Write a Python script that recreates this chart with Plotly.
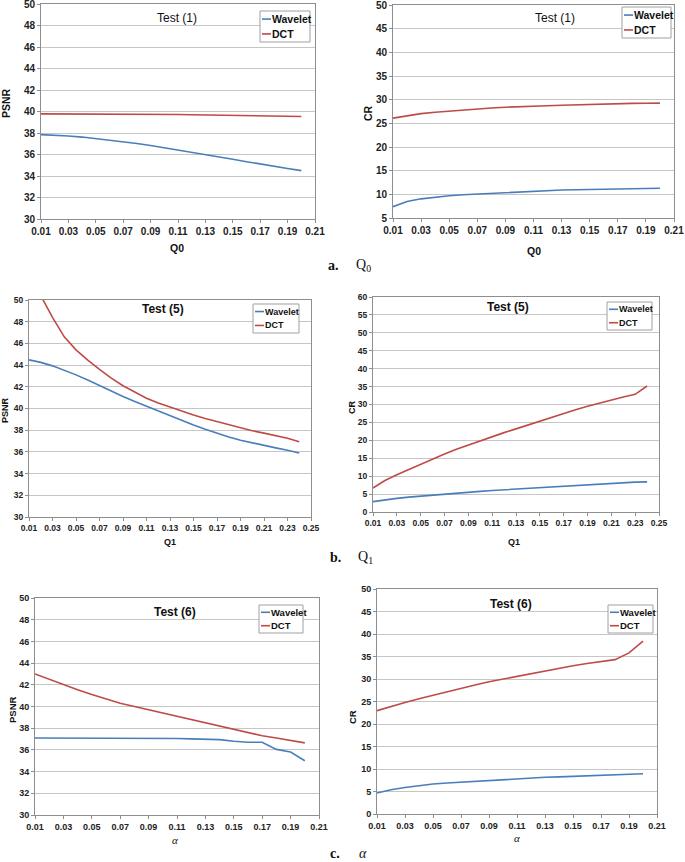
import plotly.graph_objects as go

W, H = 685, 862

# ---------------- data ----------------
q0 = [0.01, 0.02, 0.03, 0.04, 0.05, 0.06, 0.07, 0.08, 0.09, 0.10,
      0.11, 0.12, 0.13, 0.14, 0.15, 0.16, 0.17, 0.18, 0.19, 0.20]
q1 = [0.01, 0.02, 0.03, 0.04, 0.05, 0.06, 0.07, 0.08, 0.09, 0.10, 0.11, 0.12,
      0.13, 0.14, 0.15, 0.16, 0.17, 0.18, 0.19, 0.20, 0.21, 0.22, 0.23, 0.24]
alpha = [0.01, 0.02, 0.03, 0.04, 0.05, 0.06, 0.07, 0.08, 0.09, 0.10,
         0.11, 0.12, 0.13, 0.14, 0.15, 0.16, 0.17, 0.18, 0.19, 0.20]

t1_psnr_wavelet = [37.85, 37.8, 37.72, 37.62, 37.48, 37.35, 37.2, 37.02, 36.83, 36.63,
                   36.43, 36.22, 36.0, 35.78, 35.56, 35.33, 35.1, 34.9, 34.7, 34.5]
t1_psnr_dct = [39.78, 39.78, 39.78, 39.78, 39.78, 39.77, 39.76, 39.75, 39.75, 39.73,
               39.72, 39.7, 39.68, 39.66, 39.64, 39.62, 39.6, 39.57, 39.54, 39.53]
t1_cr_wavelet = [7.4, 8.5, 9.05, 9.4, 9.7, 9.9, 10.06, 10.25, 10.4, 10.55,
                 10.68, 10.8, 10.9, 10.97, 11.03, 11.07, 11.1, 11.2, 11.28, 11.3]
t1_cr_dct = [26.1, 26.6, 27.05, 27.35, 27.6, 27.85, 28.08, 28.25, 28.4, 28.55,
             28.65, 28.73, 28.82, 28.92, 29.02, 29.1, 29.17, 29.22, 29.25, 29.27]

t5_psnr_wavelet = [44.48, 44.25, 43.93, 43.55, 43.1, 42.62, 42.1, 41.6, 41.1, 40.65, 40.2, 39.75,
                   39.3, 38.88, 38.47, 38.08, 37.7, 37.38, 37.08, 36.82, 36.58, 36.37, 36.15, 35.9]
t5_psnr_dct = [53.2, 50.4, 48.4, 46.6, 45.4, 44.45, 43.6, 42.8, 42.1, 41.5, 40.95, 40.5,
               40.12, 39.75, 39.4, 39.08, 38.8, 38.5, 38.2, 37.95, 37.73, 37.5, 37.25, 36.93]
t5_cr_wavelet = [2.9, 3.4, 3.8, 4.15, 4.45, 4.7, 4.9, 5.2, 5.5, 5.75, 6.0, 6.2,
                 6.4, 6.6, 6.8, 6.97, 7.14, 7.37, 7.6, 7.8, 7.98, 8.17, 8.35, 8.4]
t5_cr_dct = [6.7, 8.8, 10.4, 11.9, 13.36, 14.8, 16.2, 17.5, 18.7, 19.9, 21.06, 22.15,
             23.2, 24.3, 25.4, 26.5, 27.55, 28.55, 29.5, 30.4, 31.26, 32.1, 32.84, 35.16]

t6_psnr_wavelet = [37.1, 37.1, 37.1, 37.1, 37.1, 37.08, 37.08, 37.08, 37.08, 37.05,
                   37.05, 37.02, 37.0, 36.95, 36.8, 36.7, 36.7, 36.05, 35.8, 35.0]
t6_psnr_dct = [43.0, 42.5, 42.0, 41.55, 41.1, 40.7, 40.3, 40.0, 39.7, 39.4,
               39.1, 38.8, 38.5, 38.2, 37.9, 37.6, 37.3, 37.1, 36.9, 36.65]
t6_cr_wavelet = [4.67, 5.4, 5.9, 6.3, 6.67, 6.9, 7.1, 7.3, 7.48, 7.67,
                 7.85, 8.0, 8.15, 8.26, 8.37, 8.48, 8.6, 8.67, 8.74, 8.96]
t6_cr_dct = [22.96, 23.9, 24.8, 25.6, 26.4, 27.15, 27.9, 28.65, 29.4, 30.0,
             30.6, 31.2, 31.85, 32.4, 32.96, 33.45, 33.9, 34.3, 35.8, 38.4]

series_names = ["Wavelet", "DCT"]
panel_titles = ["Test (1)", "Test (1)", "Test (5)", "Test (5)", "Test (6)", "Test (6)"]
y_titles = ["PSNR", "CR", "PSNR", "CR", "PSNR", "CR"]
x_titles = ["Q0", "Q0", "Q1", "Q1", "<i>α</i>", "<i>α</i>"]
fig_letters = ["a.", "b.", "c."]
fig_params = ["Q<sub>0</sub>", "Q<sub>1</sub>", "<i>α</i>"]

panels = [
    (q0, t1_psnr_wavelet, t1_psnr_dct, [30, 50], 2, [0.01, 0.21]),
    (q0, t1_cr_wavelet, t1_cr_dct, [5, 50], 5, [0.01, 0.21]),
    (q1, t5_psnr_wavelet, t5_psnr_dct, [30, 50], 2, [0.01, 0.25]),
    (q1, t5_cr_wavelet, t5_cr_dct, [0, 60], 5, [0.01, 0.25]),
    (alpha, t6_psnr_wavelet, t6_psnr_dct, [30, 50], 2, [0.01, 0.21]),
    (alpha, t6_cr_wavelet, t6_cr_dct, [0, 50], 5, [0.01, 0.21]),
]

# ---------------- layout (pixel geometry) ----------------
plot_px = [(41, 4, 315, 219), (393, 5, 674, 218), (29, 300, 311, 517),
           (373, 297, 659, 512), (35, 598, 319, 815), (377, 589, 657, 814)]
tick_sizes = [10, 10, 8.5, 8.5, 9, 9]
title_pos = [(177, 18), (555, 18), (163, 309), (508, 307), (175, 612), (511, 604)]
title_bold = [False, False, True, True, True, True]
ytitle_pos = [(6, 103), (368, 113), (5, 410), (352, 407), (12, 710), (352, 717)]
xtitle_pos = [(177, 248), (534, 251), (170, 542), (514, 542), (175, 840), (517, 838)]
legend_px = [(260, 11, 310, 42), (622, 7, 671, 38), (253, 304, 299, 333),
             (607, 302, 652, 330), (259, 605, 303, 633), (608, 605, 653, 633)]
letter_pos = [((333, 265), (363, 265)), ((335, 557), (366, 557)), ((335, 853), (363, 853))]

BLUE = "#4a7ebb"
RED = "#be4b48"
GRID = "#c6c6c6"
AXIS = "#8e8e8e"
FONT = "Liberation Sans, Arial, sans-serif"
SERIF = "Liberation Serif, Times New Roman, serif"


def fx(x):
    return x / W


def fy(y):
    return 1 - y / H


def note(x, y, text, font, xanchor="center", angle=0):
    return dict(x=fx(x), y=fy(y), xref="paper", yref="paper", text=text,
                showarrow=False, xanchor=xanchor, yanchor="middle",
                textangle=angle, font=font)


fig = go.Figure()
layout = {}
annotations = []
shapes = []

for i, (xs, yw, yd, yr, dt, xr) in enumerate(panels):
    n = i + 1
    sfx = "" if n == 1 else str(n)
    x0, y0, x1, y1 = plot_px[i]
    fig.add_trace(go.Scatter(x=xs, y=yw, mode="lines", name=series_names[0],
                             line=dict(color=BLUE, width=1.6), showlegend=False,
                             xaxis="x" + sfx, yaxis="y" + sfx))
    fig.add_trace(go.Scatter(x=xs, y=yd, mode="lines", name=series_names[1],
                             line=dict(color=RED, width=1.6), showlegend=False,
                             xaxis="x" + sfx, yaxis="y" + sfx))
    tf = dict(family=FONT, size=tick_sizes[i], color="#222", weight="bold")
    layout["xaxis" + sfx] = dict(
        domain=[fx(x0), fx(x1)], anchor="y" + sfx, range=xr,
        tick0=0.01, dtick=0.02, tickformat=".2f", showgrid=False,
        showline=True, linecolor=AXIS, linewidth=1, mirror=True,
        ticks="outside", ticklen=3, tickcolor=AXIS, tickfont=tf, zeroline=False,
        automargin=False, ticklabeloverflow="allow")
    layout["yaxis" + sfx] = dict(
        domain=[fy(y1), fy(y0)], anchor="x" + sfx, range=yr, dtick=dt,
        showgrid=True, gridcolor=GRID, gridwidth=1,
        showline=True, linecolor=AXIS, linewidth=1, mirror=True,
        ticks="outside", ticklen=3, tickcolor=AXIS, tickfont=tf, zeroline=False,
        automargin=False, ticklabeloverflow="allow")

    # panel title
    tx, ty = title_pos[i]
    annotations.append(note(tx, ty, panel_titles[i],
                            dict(family=FONT, size=12, color="#111",
                                 weight="bold" if title_bold[i] else "normal")))
    # axis titles
    ax_, ay_ = ytitle_pos[i]
    annotations.append(note(ax_, ay_, y_titles[i],
                            dict(family=FONT, size=tick_sizes[i] + 0.5, color="#111", weight="bold"),
                            angle=-90))
    bx, by = xtitle_pos[i]
    is_alpha = "α" in x_titles[i]
    annotations.append(note(bx, by, x_titles[i],
                            dict(family=SERIF if is_alpha else FONT,
                                 size=11 if is_alpha else tick_sizes[i] + 0.5,
                                 color="#111", weight="normal" if is_alpha else "bold")))
    # legend box
    lx0, ly0, lx1, ly1 = legend_px[i]
    shapes.append(dict(type="rect", xref="paper", yref="paper",
                       x0=fx(lx0), x1=fx(lx1), y0=fy(ly1), y1=fy(ly0),
                       line=dict(color="#a0a0a0", width=1), fillcolor="white", layer="above"))
    rows = [ly0 + (ly1 - ly0) * 0.26, ly0 + (ly1 - ly0) * 0.74]
    for name, col, ry in zip(series_names, [BLUE, RED], rows):
        shapes.append(dict(type="line", xref="paper", yref="paper",
                           x0=fx(lx0 + 2), x1=fx(lx0 + 11), y0=fy(ry), y1=fy(ry),
                           line=dict(color=col, width=1.6), layer="above"))
        annotations.append(note(lx0 + 10, ry, name,
                                dict(family=FONT, size=tick_sizes[i] + 0.5,
                                     color="#111", weight="bold"),
                                xanchor="left"))

for k in range(3):
    (lx, ly), (px_, py_) = letter_pos[k]
    annotations.append(note(lx, ly, fig_letters[k],
                            dict(family=SERIF, size=14, color="#111", weight="bold")))
    annotations.append(note(px_, py_, fig_params[k],
                            dict(family=SERIF, size=14, color="#111")))

fig.update_layout(
    width=W, height=H, margin=dict(l=0, r=0, t=0, b=0, pad=0), autosize=False,
    paper_bgcolor="white", plot_bgcolor="white", hovermode=False,
    showlegend=False, annotations=annotations, shapes=shapes, **layout)

fig.write_html(
    "out.html",
    config={"displayModeBar": False, "staticPlot": True},
    post_script="document.body.style.margin='0';document.body.style.overflow='hidden';",
)
